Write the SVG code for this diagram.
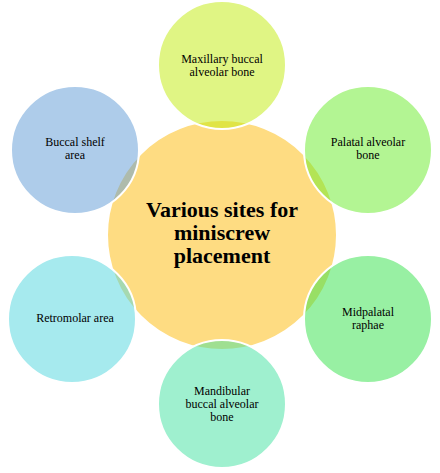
<svg xmlns="http://www.w3.org/2000/svg" width="440" height="473" viewBox="0 0 440 473">
<style>
.c{stroke:#fff;stroke-width:2}
.s{stroke:#fff;stroke-width:2;fill-opacity:0.5}
text{font-family:'Liberation Serif','Times New Roman','DejaVu Serif',serif;fill:#000;text-anchor:middle}
.t{font-size:12px}
.m{font-size:22px;font-weight:bold}
</style>
<rect width="440" height="473" fill="#fff"/>
<g id="center">
<circle class="c" cx="222" cy="235" r="115" fill="#FEDC82"/>
<text class="m" x="222" y="217" font-family="Liberation Serif, serif">Various sites for</text>
<text class="m" x="222" y="240" font-family="Liberation Serif, serif">miniscrew</text>
<text class="m" x="222" y="263" font-family="Liberation Serif, serif">placement</text>
</g>
<g id="maxillary">
<circle class="s" cx="222" cy="65" r="64" fill="#C1EB09"/>
<text class="t" x="222" y="63">Maxillary buccal</text>
<text class="t" x="222" y="76">alveolar bone</text>
</g>
<g id="palatal">
<circle class="s" cx="368" cy="150" r="64" fill="#67EB27"/>
<text class="t" x="368" y="146">Palatal alveolar</text>
<text class="t" x="368" y="159">bone</text>
</g>
<g id="midpalatal">
<circle class="s" cx="368" cy="319" r="64" fill="#31E147"/>
<text class="t" x="368" y="316">Midpalatal</text>
<text class="t" x="368" y="329">raphae</text>
</g>
<g id="mandibular">
<circle class="s" cx="222" cy="404" r="64" fill="#3FE19F"/>
<text class="t" x="222" y="395">Mandibular</text>
<text class="t" x="222" y="408">buccal alveolar</text>
<text class="t" x="222" y="421">bone</text>
</g>
<g id="retromolar">
<circle class="s" cx="72" cy="319" r="64" fill="#4DD5DD"/>
<text class="t" x="75" y="322">Retromolar area</text>
</g>
<g id="buccal-shelf">
<circle class="s" cx="75" cy="150" r="64" fill="#5D99D5"/>
<text class="t" x="75" y="146">Buccal shelf</text>
<text class="t" x="75" y="159">area</text>
</g>
</svg>
